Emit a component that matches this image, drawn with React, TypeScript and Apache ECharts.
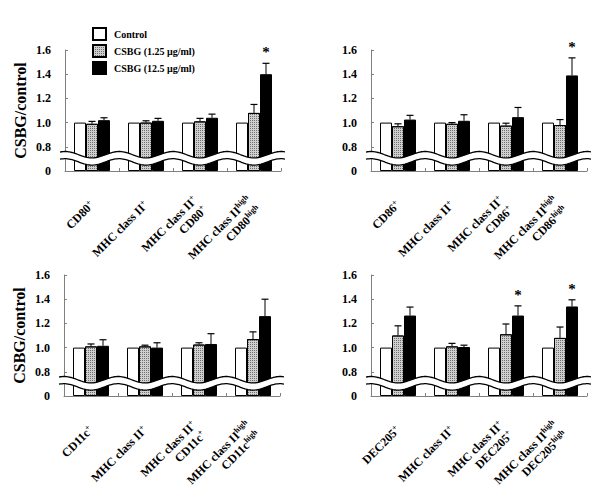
import React, { useEffect, useRef } from "react";
import * as echarts from "echarts";

const FONT = '"Liberation Serif", "Times New Roman", serif';

const seriesNames = ["Control", "CSBG (1.25 μg/ml)", "CSBG (12.5 μg/ml)"];
const yTicks = ["0", "0.8", "1.0", "1.2", "1.4", "1.6"];
const yAxisName = "CSBG/control";

const cd80Categories = ["CD80^{+}", "MHC class II^{+}", "MHC class II^{+}\nCD80^{+}", "MHC class II^{high}\nCD80^{high}"];
const cd86Categories = ["CD86^{+}", "MHC class II^{+}", "MHC class II^{+}\nCD86^{+}", "MHC class II^{high}\nCD86^{high}"];
const cd11cCategories = ["CD11c^{+}", "MHC class II^{+}", "MHC class II^{+}\nCD11c^{+}", "MHC class II^{high}\nCD11c^{high}"];
const dec205Categories = ["DEC205^{+}", "MHC class II^{+}", "MHC class II^{+}\nDEC205^{+}", "MHC class II^{high}\nDEC205^{high}"];

const cd80Control = [1.0, 1.0, 1.0, 1.0];
const cd80Low = [0.99, 1.0, 1.01, 1.08];
const cd80LowErr = [0.02, 0.015, 0.025, 0.07];
const cd80High = [1.02, 1.015, 1.04, 1.4];
const cd80HighErr = [0.02, 0.02, 0.03, 0.09];
const cd80Sig = [false, false, false, true];

const cd86Control = [1.0, 1.0, 1.0, 1.0];
const cd86Low = [0.97, 0.99, 0.975, 0.98];
const cd86LowErr = [0.02, 0.01, 0.02, 0.045];
const cd86High = [1.025, 1.015, 1.045, 1.39];
const cd86HighErr = [0.035, 0.05, 0.08, 0.145];
const cd86Sig = [false, false, false, true];

const cd11cControl = [1.0, 1.0, 1.0, 1.0];
const cd11cLow = [1.01, 1.01, 1.025, 1.07];
const cd11cLowErr = [0.02, 0.01, 0.015, 0.06];
const cd11cHigh = [1.015, 1.0, 1.03, 1.26];
const cd11cHighErr = [0.05, 0.04, 0.085, 0.14];
const cd11cSig = [false, false, false, false];

const dec205Control = [1.0, 1.0, 1.0, 1.0];
const dec205Low = [1.1, 1.01, 1.11, 1.08];
const dec205LowErr = [0.08, 0.025, 0.085, 0.09];
const dec205High = [1.265, 1.005, 1.265, 1.34];
const dec205HighErr = [0.07, 0.015, 0.08, 0.055];
const dec205Sig = [false, false, true, true];

const panels = [
  { cats: cd80Categories, control: cd80Control, low: cd80Low, lowErr: cd80LowErr, high: cd80High, highErr: cd80HighErr, sig: cd80Sig, grid: { left: 65, top: 50, width: 216, height: 121 }, name: true },
  { cats: cd86Categories, control: cd86Control, low: cd86Low, lowErr: cd86LowErr, high: cd86High, highErr: cd86HighErr, sig: cd86Sig, grid: { left: 371, top: 50, width: 216, height: 121 }, name: false },
  { cats: cd11cCategories, control: cd11cControl, low: cd11cLow, lowErr: cd11cLowErr, high: cd11cHigh, highErr: cd11cHighErr, sig: cd11cSig, grid: { left: 64, top: 275, width: 216, height: 121 }, name: true },
  { cats: dec205Categories, control: dec205Control, low: dec205Low, lowErr: dec205LowErr, high: dec205High, highErr: dec205HighErr, sig: dec205Sig, grid: { left: 371, top: 275, width: 216, height: 121 }, name: false },
];

const BAR_W = 12;
const BREAK_VALUE = 0.705;

function richLabel(s: string): string {
  return s
    .split("\n")
    .map((line) => {
      let out = "";
      const re = /\^\{([^}]*)\}|([^^]+)/g;
      let m: RegExpExecArray | null;
      while ((m = re.exec(line))) {
        if (m[1] !== undefined) out += `{s|${m[1]}}`;
        else out += `{b|${m[2]}}`;
      }
      return out;
    })
    .join("\n");
}

const grayItem = {
  color: "#cfcfcf",
  borderColor: "#000",
  borderWidth: 1,
  decal: {
    symbol: "rect",
    symbolSize: 1,
    color: "#707070",
    dashArrayX: [1, 1],
    dashArrayY: [1, 1],
    rotation: 0,
  },
};

export default function App() {
  const ref = useRef<HTMLDivElement>(null);
  useEffect(() => {
    if (!ref.current) return;
    const chart = echarts.init(ref.current, undefined, { renderer: "svg" });

    const grids: any[] = [];
    const xAxes: any[] = [];
    const yAxes: any[] = [];
    const series: any[] = [];

    panels.forEach((p, i) => {
      grids.push({ ...p.grid, containLabel: false });
      xAxes.push({
        type: "category",
        gridIndex: i,
        data: p.cats,
        axisLine: { lineStyle: { color: "#808080", width: 1 } },
        axisTick: { show: true, inside: true, length: 3, lineStyle: { color: "#808080" } },
        axisLabel: {
          interval: 0,
          rotate: 45,
          margin: 32,
          formatter: (v: string) => richLabel(v),
          rich: {
            b: { fontFamily: FONT, fontWeight: "bold", fontSize: 12, color: "#000", lineHeight: 14 },
            s: { fontFamily: FONT, fontWeight: "bold", fontSize: 8, color: "#000", lineHeight: 9, verticalAlign: "top" },
          },
        },
        splitLine: { show: false },
      });
      yAxes.push({
        type: "value",
        gridIndex: i,
        min: 0.6,
        max: 1.6,
        interval: 0.2,
        startValue: 0.6,
        name: p.name ? yAxisName : "",
        nameLocation: "middle",
        nameGap: 37,
        nameTextStyle: { fontFamily: FONT, fontWeight: "bold", fontSize: 16, color: "#000" },
        axisLine: { show: true, lineStyle: { color: "#808080", width: 1 } },
        axisTick: { show: true, inside: true, length: 3, lineStyle: { color: "#808080" } },
        axisLabel: {
          margin: 14,
          fontFamily: FONT,
          fontWeight: "bold",
          fontSize: 12,
          color: "#000",
          formatter: (v: number) => yTicks[Math.round((v - 0.6) / 0.2)],
        },
        splitLine: { show: false },
      });

      const common = { type: "bar", xAxisIndex: i, yAxisIndex: i, barWidth: BAR_W, barGap: "0%", clip: true, z: 2 };
      series.push({ ...common, name: seriesNames[0], data: p.control, itemStyle: { color: "#fff", borderColor: "#000", borderWidth: 1 } });
      series.push({ ...common, name: seriesNames[1], data: p.low, itemStyle: grayItem });
      series.push({ ...common, name: seriesNames[2], data: p.high, itemStyle: { color: "#000", borderColor: "#000", borderWidth: 1 } });

      const errData: number[][] = [];
      p.low.forEach((v, k) => errData.push([k, v, p.lowErr[k], 0]));
      p.high.forEach((v, k) => errData.push([k, v, p.highErr[k], 1]));
      series.push({
        type: "custom",
        xAxisIndex: i,
        yAxisIndex: i,
        z: 4,
        silent: true,
        encode: { x: 0, y: 1 },
        data: errData,
        renderItem: (params: any, api: any) => {
          const idx = api.value(0);
          const v = api.value(1);
          const e = api.value(2);
          const off = api.value(3) * BAR_W;
          const p0 = api.coord([idx, v]);
          const p1 = api.coord([idx, v + e]);
          const x = p0[0] + off;
          return {
            type: "group",
            children: [
              { type: "line", shape: { x1: x, y1: p0[1], x2: x, y2: p1[1] }, style: { stroke: "#000", lineWidth: 1 } },
              { type: "line", shape: { x1: x - 3.5, y1: p1[1], x2: x + 3.5, y2: p1[1] }, style: { stroke: "#000", lineWidth: 1.2 } },
            ],
          };
        },
      });

      const starData: number[][] = [];
      p.sig.forEach((s, k) => {
        if (s) starData.push([k, p.high[k] + p.highErr[k]]);
      });
      series.push({
        type: "custom",
        xAxisIndex: i,
        yAxisIndex: i,
        z: 4,
        silent: true,
        encode: { x: 0, y: 1 },
        data: starData,
        renderItem: (params: any, api: any) => {
          const c = api.coord([api.value(0), api.value(1)]);
          return {
            type: "text",
            style: {
              text: "*",
              x: c[0] + BAR_W,
              y: c[1] - 11,
              fill: "#000",
              font: `bold 15px ${FONT}`,
              align: "center",
              verticalAlign: "middle",
            },
          };
        },
      });

      series.push({
        type: "custom",
        xAxisIndex: i,
        yAxisIndex: i,
        z: 6,
        silent: true,
        clip: false,
        encode: { x: 0, y: 1 },
        data: [[0, BREAK_VALUE]],
        renderItem: (params: any, api: any) => {
          const c0 = api.coord([0, BREAK_VALUE]);
          const c3 = api.coord([3, BREAK_VALUE]);
          const band = (c3[0] - c0[0]) / 3;
          const xStart = c0[0] - band / 2 - 5;
          const xEnd = c3[0] + band / 2 + 4;
          const boundary = c0[0] - band / 2;
          const amp = 3.2;
          const half = 3.6;
          const upper: number[][] = [];
          const lower: number[][] = [];
          for (let x = xStart; x <= xEnd + 0.01; x += 1.5) {
            const yc = c0[1] - amp * Math.cos((2 * Math.PI * (x - boundary)) / band);
            upper.push([x, yc - half]);
            lower.push([x, yc + half]);
          }
          const poly = upper.concat(lower.slice().reverse());
          return {
            type: "group",
            children: [
              { type: "polygon", shape: { points: poly }, style: { fill: "#fff", stroke: "none" } },
              { type: "polyline", shape: { points: upper }, style: { stroke: "#000", lineWidth: 1.3, fill: "none" } },
              { type: "polyline", shape: { points: lower }, style: { stroke: "#000", lineWidth: 1.3, fill: "none" } },
            ],
          };
        },
      });
    });

    chart.setOption({
      animation: false,
      backgroundColor: "#fff",
      aria: { enabled: false },
      legend: {
        orient: "vertical",
        left: 87,
        top: 22,
        itemWidth: 13,
        itemHeight: 12,
        itemGap: 3,
        icon: "rect",
        data: seriesNames,
        textStyle: { fontFamily: FONT, fontWeight: "bold", fontSize: 10, color: "#000", padding: [0, 0, 0, 3] },
        selectedMode: false,
      },
      grid: grids,
      xAxis: xAxes,
      yAxis: yAxes,
      series,
    });
    return () => chart.dispose();
  }, []);
  return <div ref={ref} style={{ position: "fixed", left: 0, top: 0, width: 600, height: 499 }} />;
}
